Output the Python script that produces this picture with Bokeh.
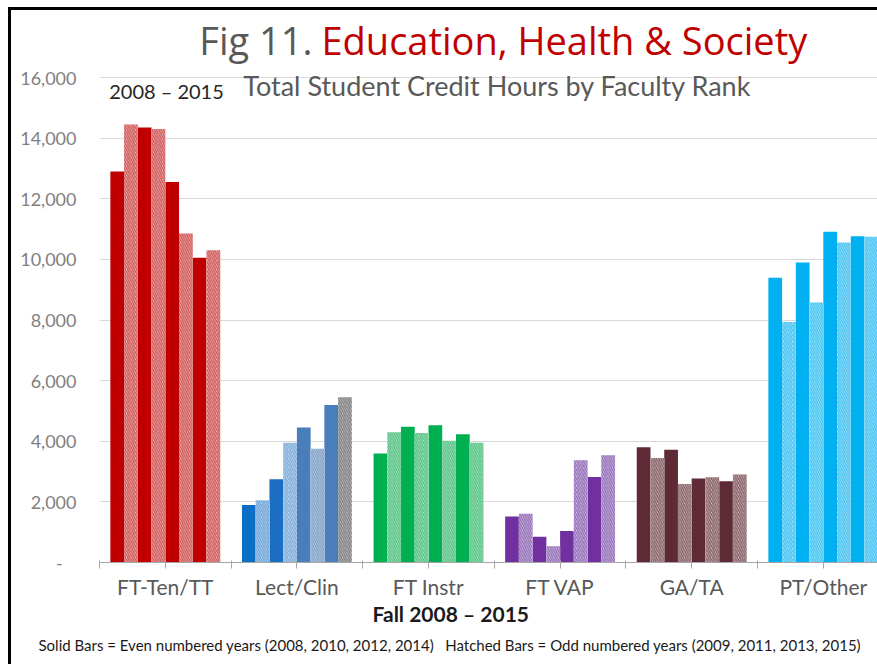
from bokeh.plotting import figure
from bokeh.models import ColumnDataSource, Range1d, FixedTicker, Label, Title
from bokeh.embed import file_html
from bokeh.resources import INLINE

# ---------------- data ----------------
categories = ["FT-Ten/TT", "Lect/Clin", "FT Instr", "FT VAP", "GA/TA", "PT/Other"]
years = [2008, 2009, 2010, 2011, 2012, 2013, 2014, 2015]

ft_ten_tt = [12900, 14450, 14350, 14300, 12550, 10850, 10050, 10300]
lect_clin = [1900, 2050, 2750, 3950, 4450, 3750, 5200, 5450]
ft_instr = [3600, 4300, 4480, 4270, 4530, 4020, 4230, 3950]
ft_vap = [1520, 1610, 850, 540, 1040, 3370, 2820, 3540]
ga_ta = [3800, 3450, 3720, 2590, 2770, 2810, 2680, 2900]
pt_other = [9390, 7930, 9900, 8580, 10910, 10560, 10760, 10750]

series = [ft_ten_tt, lect_clin, ft_instr, ft_vap, ga_ta, pt_other]

y_ticks = [0, 2000, 4000, 6000, 8000, 10000, 12000, 14000, 16000]
y_tick_labels = ["-\u00a0\u00a0\u00a0", "2,000", "4,000", "6,000", "8,000",
                 "10,000", "12,000", "14,000", "16,000"]

# ---------------- styles ----------------
solid_colors = [
    ["#C00000"] * 8,
    ["#0A6EC4", "#0A6EC4", "#1A6FC2", "#1A6FC2", "#4A7EBB", "#4A7EBB", "#4A7EBB", "#4A7EBB"],
    ["#00B050"] * 8,
    ["#7030A0"] * 8,
    ["#5E2A35"] * 8,
    ["#00B0F0"] * 8,
]
hatch_colors = [
    ["#D05A5A"] * 8,
    ["#6FA3D8", "#6FA3D8", "#7FADDA", "#7FADDA", "#7F9FC8", "#7F9FC8", "#7F7F7F", "#7F7F7F"],
    ["#55C282"] * 8,
    ["#9470B8"] * 8,
    ["#866066"] * 8,
    ["#45C3F2"] * 8,
]
tint_colors = [
    ["#F8E0E0"] * 8,
    ["#E8F1FA", "#E8F1FA", "#E8F1FA", "#E8F1FA", "#E8EEF6", "#E8EEF6", "#EBEBEB", "#EBEBEB"],
    ["#E2F5EA"] * 8,
    ["#EFE6F5"] * 8,
    ["#F0E8E9"] * 8,
    ["#E2F5FD"] * 8,
]

group_frac = 0.835
bar_w = group_frac / len(years)
pad = (1 - group_frac) / 2

solid = dict(x=[], top=[], color=[])
hatch = dict(x=[], top=[], color=[], fill=[])
for ci, vals in enumerate(series):
    for yi, v in enumerate(vals):
        xc = ci + pad + (yi + 0.5) * bar_w
        if years[yi] % 2 == 0:
            solid["x"].append(xc); solid["top"].append(v)
            solid["color"].append(solid_colors[ci][yi])
        else:
            hatch["x"].append(xc); hatch["top"].append(v)
            hatch["color"].append(hatch_colors[ci][yi])
            hatch["fill"].append(tint_colors[ci][yi])

W, H = 877, 664
LEFT, BOTTOM = 99, 102
ZERO_PX = H - BOTTOM          # canvas y of the baseline
TOP16_PX = 77                 # canvas y of the 16,000 gridline
frame_w = W - LEFT
px_per_cat = 131.6
y_end = 16000 * ZERO_PX / (ZERO_PX - TOP16_PX)

p = figure(width=W, height=H, output_backend="svg", toolbar_location=None,
           x_range=Range1d(0, frame_w / px_per_cat), y_range=Range1d(0, y_end),
           min_border_left=LEFT, min_border_right=0, min_border_top=0,
           min_border_bottom=BOTTOM, background_fill_color=None,
           border_fill_color=None, outline_line_color=None)
p.styles = {"box-shadow": "inset 8px 7px 0 0 white, inset 11px 10px 0 0 black"}

p.vbar(x="x", top="top", width=bar_w, bottom=0, source=ColumnDataSource(solid),
       fill_color="color", line_color=None)
p.vbar(x="x", top="top", width=bar_w, bottom=0, source=ColumnDataSource(hatch),
       fill_color="fill", line_color=None, hatch_pattern="\\",
       hatch_color="color", hatch_scale=4.5, hatch_weight=1.6)

# y axis
p.yaxis.ticker = FixedTicker(ticks=y_ticks)
p.yaxis.major_label_overrides = {t: l for t, l in zip(y_ticks, y_tick_labels)}
p.yaxis.axis_line_color = None
p.yaxis.major_tick_line_color = None
p.yaxis.minor_tick_line_color = None
p.yaxis.major_label_standoff = 17
p.yaxis.major_label_text_font = "Lato"
p.yaxis.major_label_text_font_size = "18px"
p.yaxis.major_label_text_color = "#7F7F7F"
p.ygrid.ticker = FixedTicker(ticks=y_ticks)
p.ygrid.grid_line_color = "#D9D9D9"
p.ygrid.grid_line_width = 1
p.xgrid.grid_line_color = None

# x axis
xt = [i * 0.5 for i in range(13)]
p.xaxis.ticker = FixedTicker(ticks=xt)
ov = {t: "" for t in xt}
for i, c in enumerate(categories):
    ov[i + 0.5] = c
p.xaxis.major_label_overrides = ov
p.xaxis.axis_line_color = "#A6A6A6"
p.xaxis.major_tick_line_color = "#A6A6A6"
p.xaxis.major_tick_in = 2
p.xaxis.major_tick_out = 6
p.xaxis.minor_tick_line_color = None
p.xaxis.major_label_standoff = 5
p.xaxis.major_label_text_font = "Lato"
p.xaxis.major_label_text_font_size = "21px"
p.xaxis.major_label_text_color = "#595959"

def px2x(px):
    return (px - LEFT) / px_per_cat

def py2y(py):
    return (ZERO_PX - py) * 16000 / (ZERO_PX - TOP16_PX)

# texts inside the (extended) frame
p.add_layout(Label(x=px2x(312), y=py2y(39), text="Fig 11.", text_align="right",
                   text_baseline="middle", text_font="Open Sans", text_font_size="38px",
                   text_color="#595959"))
p.add_layout(Label(x=px2x(321), y=py2y(39), text="Education, Health & Society",
                   text_align="left", text_baseline="middle", text_font="Open Sans",
                   text_font_size="38px", text_color="#C00000"))
p.add_layout(Label(x=px2x(166), y=py2y(90), text="2008 \u2013 2015", text_align="center",
                   text_baseline="middle", text_font="Lato", text_font_size="20px",
                   text_color="#262626"))
p.add_layout(Label(x=px2x(497), y=py2y(85), text="Total Student Credit Hours by Faculty Rank",
                   text_align="center", text_baseline="middle", text_font="Lato",
                   text_font_size="27px", text_color="#595959"))

# texts below the axis
p.add_layout(Title(text="Fall 2008 \u2013 2015", align="left", offset=372 - LEFT,
                   standoff=-5, text_font="Lato", text_font_size="21px",
                   text_font_style="bold", text_color="#1A1A1A"), "below")
p.add_layout(Title(text="Solid Bars = Even numbered years (2008, 2010, 2012, 2014)\u00a0\u00a0 "
                        "Hatched Bars = Odd numbered years (2009, 2011, 2013, 2015)",
                   align="left", offset=38 - LEFT, standoff=21,
                   text_font="Lato", text_font_size="15px", text_font_style="normal",
                   text_color="#1A1A1A"), "below")

open("out.html", "w").write(file_html(p, INLINE))
